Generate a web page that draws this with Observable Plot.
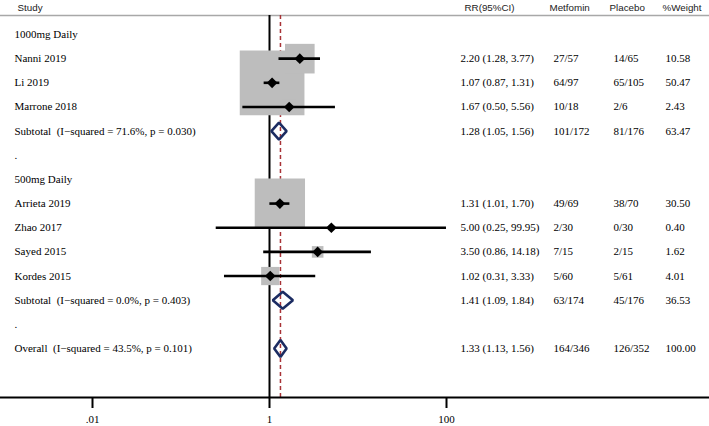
<!DOCTYPE html>
<html>
<head>
<meta charset="utf-8">
<script src="https://cdn.jsdelivr.net/npm/d3@7"></script>
<script src="https://cdn.jsdelivr.net/npm/@observablehq/plot@0.6"></script>
<style>
  html, body { margin: 0; padding: 0; background: #fff; }
  svg text { white-space: pre; }
</style>
</head>
<body>
<div id="chart"></div>
<script>
// ---- data ----
const headers = ["Study", "RR(95%CI)", "Metfomin", "Placebo", "%Weight"];
const rowLabels = [
  "1000mg Daily", "Nanni 2019", "Li 2019", "Marrone 2018",
  "Subtotal  (I\u2212squared = 71.6%, p = 0.030)", ".",
  "500mg Daily", "Arrieta 2019", "Zhao 2017", "Sayed 2015", "Kordes 2015",
  "Subtotal  (I\u2212squared = 0.0%, p = 0.403)", ".",
  "Overall  (I\u2212squared = 43.5%, p = 0.101)"
];
const studyNames = ["Nanni 2019", "Li 2019", "Marrone 2018", "Arrieta 2019", "Zhao 2017", "Sayed 2015", "Kordes 2015"];
const studyRR    = [2.20, 1.07, 1.67, 1.31, 5.00, 3.50, 1.02];
const studyLo    = [1.28, 0.87, 0.50, 1.01, 0.25, 0.86, 0.31];
const studyHi    = [3.77, 1.31, 5.56, 1.70, 99.95, 14.18, 3.33];
const studyMet   = ["27/57", "64/97", "10/18", "49/69", "2/30", "7/15", "5/60"];
const studyPla   = ["14/65", "65/105", "2/6", "38/70", "0/30", "2/15", "5/61"];
const studyWt    = [10.58, 50.47, 2.43, 30.50, 0.40, 1.62, 4.01];

const sumNames = ["Subtotal  (I\u2212squared = 71.6%, p = 0.030)", "Subtotal  (I\u2212squared = 0.0%, p = 0.403)", "Overall  (I\u2212squared = 43.5%, p = 0.101)"];
const sumRR  = [1.28, 1.41, 1.33];
const sumLo  = [1.05, 1.09, 1.13];
const sumHi  = [1.56, 1.84, 1.56];
const sumMet = ["101/172", "63/174", "164/346"];
const sumPla = ["81/176", "45/176", "126/352"];
const sumWt  = ["63.47", "36.53", "100.00"];

const tickValues = [0.01, 1, 100];
const tickLabels = [".01", "1", "100"];

// ---- derived tables ----
const rowOf = name => rowLabels.indexOf(name);
const labels = rowLabels.map((t, i) => ({row: i, text: t}));
const studies = studyNames.map((n, i) => ({
  row: rowOf(n), rr: studyRR[i], lo: studyLo[i], hi: studyHi[i],
  met: studyMet[i], pla: studyPla[i], wt: studyWt[i],
  ci: `${studyRR[i].toFixed(2)} (${studyLo[i].toFixed(2)}, ${studyHi[i].toFixed(2)})`,
  wtText: studyWt[i].toFixed(2)
}));
const summaries = sumNames.map((n, i) => ({
  row: rowLabels.lastIndexOf(n), rr: sumRR[i], lo: sumLo[i], hi: sumHi[i],
  met: sumMet[i], pla: sumPla[i], wtText: sumWt[i],
  ci: `${sumRR[i].toFixed(2)} (${sumLo[i].toFixed(2)}, ${sumHi[i].toFixed(2)})`
}));
const half = 0.35;
const diamonds = summaries.flatMap((s, k) => [
  {k, x: s.lo, y: s.row},
  {k, x: s.rr, y: s.row - half},
  {k, x: s.hi, y: s.row},
  {k, x: s.rr, y: s.row + half}
]);
const tableRows = [...studies, ...summaries];
const overall = summaries[summaries.length - 1].rr;

const serif = "'Liberation Serif', 'Times New Roman', serif";
const sans = "'Liberation Sans', Arial, sans-serif";
const colText = (field, dx) => Plot.text(tableRows, {
  y: "row", text: field, frameAnchor: "left", dx, textAnchor: "start",
  fontFamily: serif, fontSize: 11, fill: "#000"
});
const headerDx = [17, 464, 549, 609, 662];
const headerMarks = headers.map((h, i) => Plot.text([h], {
  text: d => d, frameAnchor: "top-left", dx: headerDx[i], dy: -8,
  lineAnchor: "middle", textAnchor: "start", fontFamily: sans, fontSize: 9.8, fill: "#222"
}));

const chart = Plot.plot({
  width: 709, height: 426,
  marginTop: 15, marginBottom: 29, marginLeft: 0, marginRight: 0,
  style: {background: "#fff", overflow: "visible"},
  x: {type: "log", domain: [0.01, 100], range: [92, 446], axis: null},
  y: {type: "linear", domain: [0, 13], range: [34, 348], axis: null},
  r: {type: "sqrt", domain: [0, 50.47], range: [0, 36.5]},
  marks: [
    Plot.frame({anchor: "top", stroke: "#a8a8a8", strokeWidth: 1.5}),
    Plot.ruleX([1], {stroke: "#000", strokeWidth: 2}),
    Plot.ruleX([overall], {stroke: "#a83236", strokeWidth: 1.5, strokeDasharray: "4,3"}),
    Plot.dot(studies, {x: "rr", y: "row", r: "wt", symbol: "square", fill: "#bdbdbd", stroke: "none"}),
    Plot.ruleY(studies, {y: "row", x1: "lo", x2: "hi", stroke: "#000", strokeWidth: 2.6}),
    Plot.dot(studies, {x: "rr", y: "row", r: 4.8, symbol: "diamond2", fill: "#000", stroke: "none"}),
    Plot.line(diamonds, {x: "x", y: "y", z: "k", curve: "linear-closed", stroke: "#1c2c62", strokeWidth: 2.6, fill: "none", strokeLinejoin: "miter"}),
    Plot.text(labels, {y: "row", text: "text", frameAnchor: "left", dx: 14, textAnchor: "start", fontFamily: serif, fontSize: 11, fill: "#000"}),
    colText("ci", 460),
    colText("met", 553),
    colText("pla", 613),
    colText("wtText", 665),
    ...headerMarks,
    Plot.axisX({ticks: tickValues, tickFormat: (d) => tickLabels[tickValues.indexOf(d)], tickSize: 11, tickPadding: 7,
      strokeWidth: 2, fontFamily: serif, fontSize: 11, label: null, anchor: "bottom", color: "#000"}),
    Plot.frame({anchor: "bottom", stroke: "#000", strokeWidth: 2})
  ]
});
document.getElementById("chart").appendChild(chart);
</script>
</body>
</html>
